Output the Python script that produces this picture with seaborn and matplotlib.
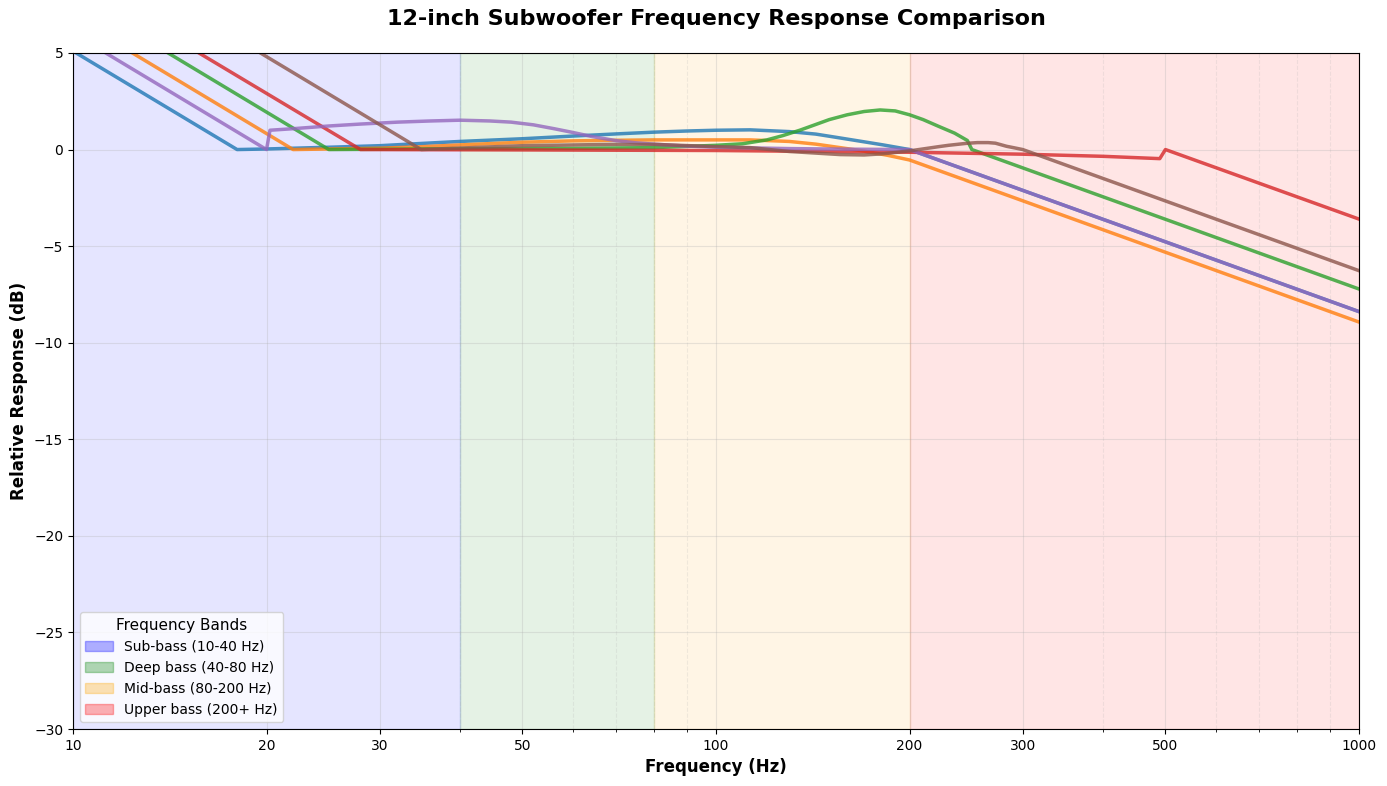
import matplotlib
matplotlib.use("Agg")
import matplotlib.pyplot as plt
import matplotlib.patches as mpatches
from matplotlib.ticker import FixedLocator, ScalarFormatter, NullFormatter
import seaborn as sns

# ============================================================
# DATA
# ============================================================

freq_a = [10, 18, 20, 25, 30, 35, 40, 50, 60, 70, 80, 90, 100, 113, 130, 143, 156, 170, 182, 200, 1000]
resp_a = [5.1, 0, 0.03, 0.12, 0.2, 0.32, 0.42, 0.56, 0.7, 0.81, 0.9, 0.96, 1.0, 1.02, 0.93, 0.8, 0.6, 0.4, 0.24, 0, -8.39]

freq_b = [10, 22, 30, 35, 40, 50, 60, 70, 80, 100, 113, 130, 143, 156, 170, 185, 200, 1000]
resp_b = [6.85, 0, 0.07, 0.15, 0.24, 0.38, 0.45, 0.48, 0.5, 0.5, 0.5, 0.42, 0.28, 0.1, -0.08, -0.3, -0.54, -8.93]

freq_c = [10, 25, 40, 60, 80, 100, 110, 120, 127, 135, 143, 150, 160, 170, 180, 190, 200, 210, 222, 235, 246, 250, 1000]
resp_c = [7.96, 0, 0.04, 0.06, 0.1, 0.22, 0.3, 0.5, 0.72, 1.0, 1.3, 1.55, 1.8, 1.97, 2.05, 2.0, 1.8, 1.55, 1.2, 0.85, 0.47, 0, -7.22]

freq_d = [10, 28, 50, 100, 200, 300, 400, 490, 500, 1000]
resp_d = [8.9, 0, -0.02, -0.05, -0.14, -0.24, -0.35, -0.47, 0, -3.6]

freq_e = [10, 20, 20.25, 22, 25, 28, 32, 36, 40, 44.5, 48, 52, 56, 60, 64, 70, 75, 80, 90, 100, 130, 160, 200, 1000]
resp_e = [6.02, 0, 1.0, 1.08, 1.22, 1.32, 1.42, 1.48, 1.52, 1.48, 1.42, 1.28, 1.08, 0.88, 0.68, 0.46, 0.35, 0.28, 0.18, 0.12, 0.05, 0.02, 0, -8.39]

freq_f = [10, 34.8, 50, 70, 80, 100, 113, 130, 156, 170, 182, 200, 222, 230, 245, 255, 265, 272, 283, 290, 300, 1000]
resp_f = [10.83, 0, 0.2, 0.27, 0.27, 0.15, 0.1, -0.1, -0.26, -0.28, -0.22, -0.07, 0.15, 0.22, 0.32, 0.36, 0.36, 0.33, 0.17, 0.1, 0, -6.27]

series = [
    (freq_a, resp_a, "tab:blue"),
    (freq_b, resp_b, "tab:orange"),
    (freq_c, resp_c, "tab:green"),
    (freq_d, resp_d, "tab:red"),
    (freq_e, resp_e, "tab:purple"),
    (freq_f, resp_f, "tab:brown"),
]

band_edges = [(10, 40), (40, 80), (80, 200), (200, 1000)]
band_colors = ["blue", "green", "orange", "red"]
band_labels = ["Sub-bass (10-40 Hz)", "Deep bass (40-80 Hz)",
               "Mid-bass (80-200 Hz)", "Upper bass (200+ Hz)"]

x_ticks = [10, 20, 30, 50, 100, 200, 300, 500, 1000]

# ============================================================
# PLOT
# ============================================================

fig, ax = plt.subplots(figsize=(13.87, 7.86), dpi=100)
fig.subplots_adjust(left=0.0526, right=0.9798, top=0.9326, bottom=0.0725)

for (lo, hi), col in zip(band_edges, band_colors):
    ax.axvspan(lo, hi, color=col, alpha=0.1)

for f, r, col in series:
    sns.lineplot(x=f, y=r, color=col, linewidth=2.5, alpha=0.8, ax=ax)

ax.set_xscale("log")
ax.set_xlim(10, 1000)
ax.set_ylim(-30, 5)

ax.xaxis.set_major_locator(FixedLocator(x_ticks))
ax.xaxis.set_major_formatter(ScalarFormatter())
ax.xaxis.set_minor_formatter(NullFormatter())

ax.grid(True, which="major", alpha=0.3)
ax.grid(True, which="minor", linestyle="--", alpha=0.2)

ax.set_xlabel("Frequency (Hz)", fontsize=12, fontweight="bold")
ax.set_ylabel("Relative Response (dB)", fontsize=12, fontweight="bold")
ax.set_title("12-inch Subwoofer Frequency Response Comparison",
             fontsize=16, fontweight="bold", pad=20)

handles = [mpatches.Patch(color=c, alpha=0.3, label=l)
           for c, l in zip(band_colors, band_labels)]
ax.legend(handles=handles, loc="lower left", title="Frequency Bands",
          title_fontsize=11, fontsize=10)

plt.savefig("out.png", dpi=100)
